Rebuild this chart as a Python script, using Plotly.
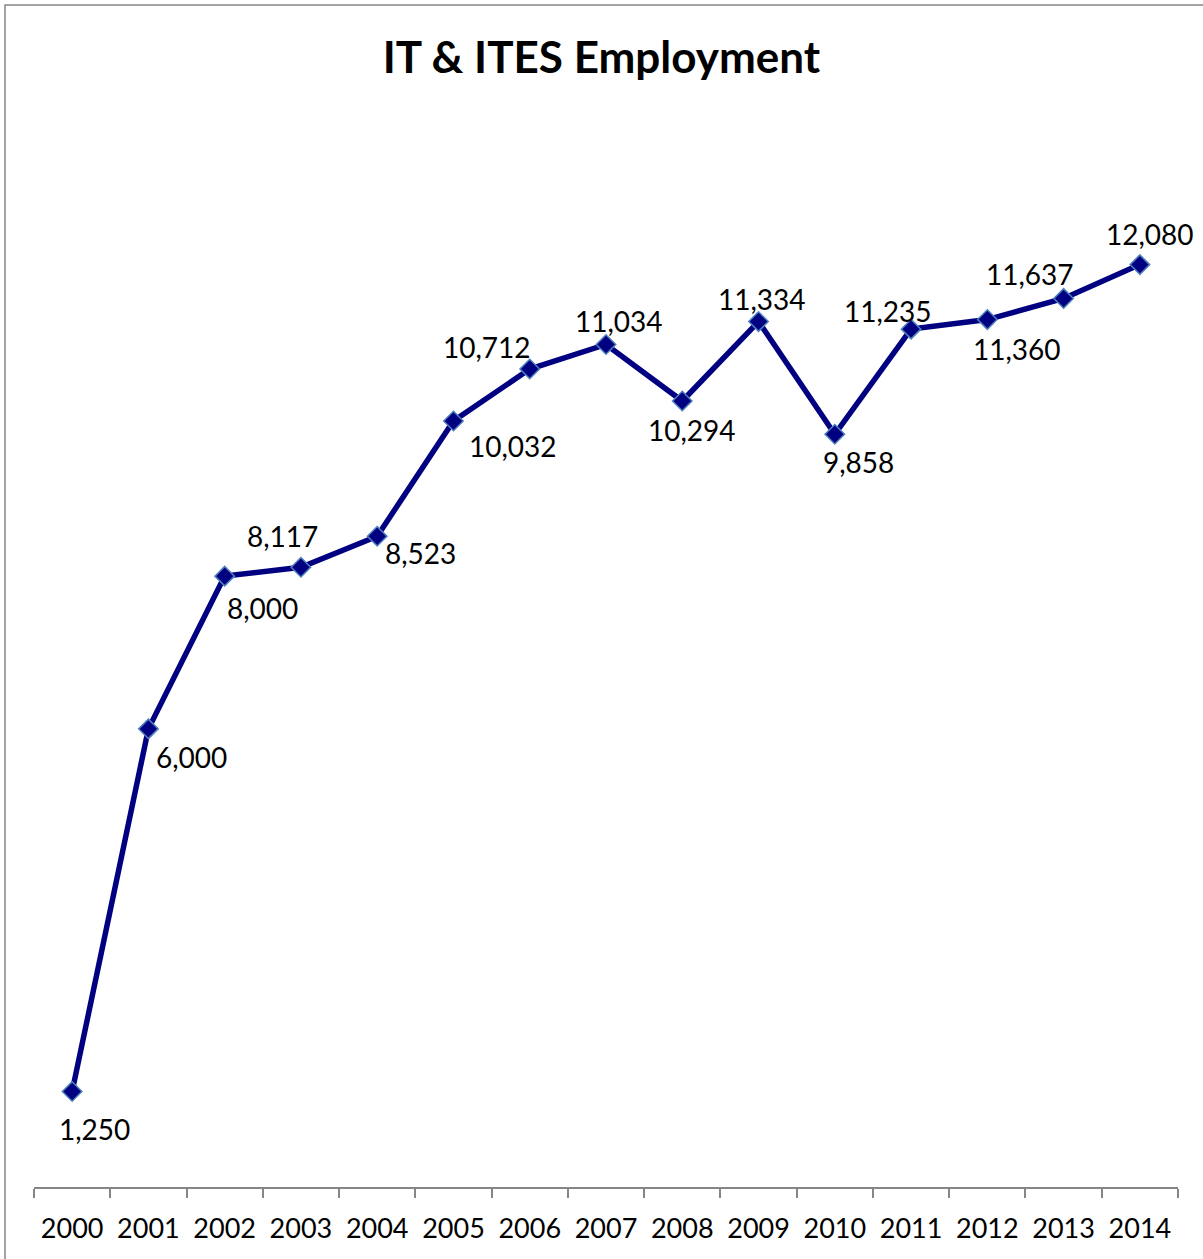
import plotly.graph_objects as go

years = ["2000", "2001", "2002", "2003", "2004", "2005", "2006", "2007",
         "2008", "2009", "2010", "2011", "2012", "2013", "2014"]
employment = [1250, 6000, 8000, 8117, 8523, 10032, 10712, 11034,
              10294, 11334, 9858, 11235, 11360, 11637, 12080]

# label offsets in pixels (style only)
label_dx = [22, 43, 38, -18, 43, 60, -43, 13, 10, 3, 24, -23, 30, -34, 10]
label_dy = [-37, -28, -32, 31, -17, -25, 22, 23, -29, 23, -28, 18, -29, 24, 31]

FONT = "Lato"

fig = go.Figure()
fig.add_trace(go.Scatter(
    x=years, y=employment, mode="lines+markers",
    line=dict(color="#000080", width=5.5),
    marker=dict(symbol="diamond", size=15, color="#000080",
                line=dict(color="#4F81BD", width=1.5)),
    hoverinfo="skip",
))

for i, (v, dx, dy) in enumerate(zip(employment, label_dx, label_dy)):
    fig.add_annotation(x=i, y=v, text=f"{v:,}", showarrow=False,
                       xshift=dx, yshift=dy,
                       font=dict(family=FONT, size=28, color="#000000"))

# chart border (left & top visible)
fig.add_shape(type="rect", xref="paper", yref="paper",
              x0=(5 - 34) / 1144, x1=(1260 - 34) / 1144,
              y0=(1187 - 1300) / 1069, y1=(1187 - 5) / 1069,
              line=dict(color="#878787", width=1.5), fillcolor="rgba(0,0,0,0)",
              layer="below")

fig.update_layout(
    width=1203, height=1259,
    margin=dict(l=34, r=25, t=118, b=72),
    paper_bgcolor="white", plot_bgcolor="white",
    showlegend=False,
    title=dict(text="<b>IT & ITES Employment</b>", x=0.5, xanchor="center",
               y=1 - 58 / 1259, yanchor="middle",
               font=dict(family=FONT, size=44, color="#000000")),
    xaxis=dict(type="category", range=[-0.5, 14.5],
               showline=True, linecolor="#868686", linewidth=1.5,
               ticks="outside", tickson="boundaries", ticklen=9,
               tickcolor="#868686", tickwidth=1.5, ticklabelstandoff=17,
               showgrid=False, zeroline=False,
               tickfont=dict(family=FONT, size=27, color="#000000")),
    yaxis=dict(range=[0, 14000], visible=False, showgrid=False, zeroline=False),
)

fig.write_html("out.html", config={"displayModeBar": False},
               post_script="document.body.style.margin='0px';")
